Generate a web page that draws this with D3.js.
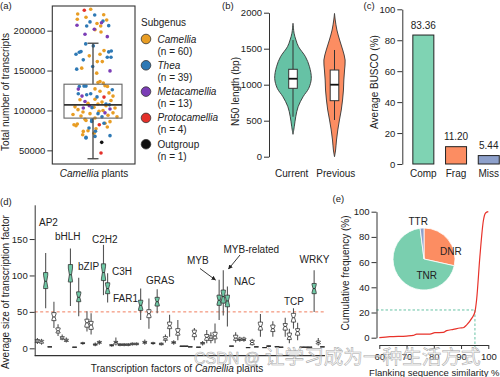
<!DOCTYPE html>
<html><head><meta charset="utf-8">
<script src="https://cdn.jsdelivr.net/npm/d3@7"></script>
<style>body{margin:0;background:#fff}svg{display:block}</style>
</head><body><svg id="c" width="500" height="377"></svg>
<script>
// ---------------- DATA ----------------
// (a)
const subgenera = ["Camellia","Thea","Metacamellia","Protocamellia","Outgroup"];
const subgenusN = [60,39,13,4,1];
const subgenusColors = ["#E89D24","#2E79B5","#7B3DB6","#E4302A","#111111"];
const transcriptTicks = [50000,100000,150000,200000];
const transcriptBox = [39500, 90400, 107000, 132900, 184250];
// [value, jitter]
const camelliaDots = [[226750,-2.3],[220900,-15.3],[216750,-7],[220000,10.7],[214250,-15.7],[213400,13.7],[209000,4],[201250,2],[198400,8],[205900,7.7],
[175000,11],[170500,7],[168400,-3.7],[161250,4.3],[161250,9.3],[153000,-11.3],[146750,3.7],[136250,7],[134250,10.3],[135000,5],
[131000,12],[130000,14.5],[127000,2],[124000,7],[122000,16],[118000,20],[113400,-13],[114000,2],[112500,18],[110500,9],
[109000,-5],[108000,5],[106000,13],[104500,-18],[104000,1],[103000,22],[101000,-15],[100000,10],[99000,6],[98000,-10],
[97000,20],[96000,-3],[95000,-20],[94000,15],[93000,-12],[92000,24],[90500,2],[89000,-8],[87500,-7],[86000,17],
[84000,12],[83000,-15.7],[82000,-19],[80900,-17],[79250,14.3],[77000,3],[74500,-5],[73750,-9.7],[69600,-10.3],[71500,1]];
const theaDots = [[219600,1.7],[205900,-6.3],[206250,15.7],[212000,10],[211000,-3],[183400,-7.3],[180900,0.3],[173000,-13.7],[173750,-12],[170500,-17],
[163400,-9.7],[173400,15.7],[174600,18.3],[166750,14.3],[166750,18],[151750,-16.3],[155000,-0.3],[130000,-13.7],[130500,-9],[130500,-7],
[125900,19.3],[120900,-14.7],[119600,-6.3],[120900,-2.3],[117000,4],[108000,13],[107000,16.5],[103500,-1],[96000,5],[92000,9],
[88000,-1.3],[86250,-1.3],[84000,11],[78000,-4],[74000,2.5],[68400,17],[67500,2],[66250,-7],[65400,-7]];
const metacamelliaDots = [[206750,-16],[210000,8.5],[201750,1.3],[195500,-8],[192500,14.3],[149600,17],[126750,-14.7],[111250,-8],[105900,-3.7],[103000,-9.7],[101750,17],[118000,-11],[97000,12]];
const protocamelliaDots = [[225500,-8.7],[116750,11],[82100,6.3],[46750,8]];
const outgroupDots = [[60000,8.7]];

// (b)
const n50Groups = ["Current","Previous"];
const n50Ticks = [0,500,1000,1500,2000];
const n50Current = [[311,0],[417,0.07],[555,0.15],[694,0.28],[833,0.55],[950,0.86],[1088,1.0],[1250,0.9],[1389,0.68],[1528,0.3],[1621,0.16],[1714,0.06],[1853,0]];
const n50Previous = [[0,0],[93,0.06],[232,0.11],[371,0.18],[510,0.27],[648,0.37],[787,0.44],[926,0.49],[1065,0.51],[1204,0.55],[1343,0.58],[1482,0.45],[1621,0.28],[1760,0.13],[1899,0.04],[1990,0]];
const n50Boxes = [[555,950,1083,1214,1620],[510,778,1000,1204,1482]];
const n50Colors = ["#66C2A5","#FC8D62"];

// (c)
const buscoCats = ["Comp","Frag","Miss"];
const buscoValues = [83.36, 11.20, 5.44];
const buscoTicks = [0,20,40,60,80,100];
const buscoColors = ["#7FD3B3","#FC8D62","#8DA0CB"];

// (d)  [lo, q1, median, q3, hi]
const tfStats = [
[6,8,10,12,14],[5,7,9,11,13],[55,82,92,104,131],[2,2,2,2,2],[28,38,43,49,64],
[17,21,24,28,33],[11,12.5,14,16,19],[8,9.5,11,12.5,15],[58,91,101,115,137],[1.5,1.5,1.5,1.5,1.5],
[44,64,70,77.5,97],[5,6.5,7,7.5,9],[23,29,35,40,51],[19,26,32,37,48],[3,4.5,5,6,8],
[5,7,8,9.5,11],[73,93,104,116,142],[63,75,82,90,103],[2,3.5,4,5,6],[4,6,8,9.5,15],
[3,4,5,6,7],[3,4,5,6,7],[3,4,5,6,7],[4,5,6,7,8],[4,5,6,7,8],
[39,52,59,66,82],[5,7,8,9.5,12],[27,42,47.5,53,68.5],[5,6.5,7,7.5,9],[48,58,64,70,81],
[4,5,6,7,8],[8,11,13,16,19],[16,27,31,36,46],[5,7,8,9,11],[11,18,22,27,39],
[2.5,2.5,3,3,3.5],[2.5,2.5,3,3,3.5],[2,2,2,2,2],[11,16,20.5,25,28],[1.5,1.5,1.5,1.5,1.5],
[4,6,7,8,10],[7,11,15,19,25],[7,11,14,17,22],[7,13,17,22,34],[39,59,66,73,94],
[45,62,71,80,107],[30,57,65,73,85],[3,3,3,3,3],[8,11,14,18,22],[9,11,12,14,16],
[9,11,12,14,16],[1,1,1,1,1],[4,5,8,11,13],[2,2,2,2,2],[16,25,30,36,47],
[1,1,1,1,1],[2,2.5,3,3.5,4],[16,23,27,32,37],[1.5,2,2,2.5,3],[1.5,1.5,1.5,1.5,1.5],
[16,25,30,34,42],[7,12,16,21,27],[27,36,42,48,55],[11,18,23,27,35],[1.5,1.5,1.5,1.5,1.5],
[1.5,1.5,1.5,1.5,1.5],[1.5,1.5,1.5,1.5,1.5],[50,75,82,89,107],[4,6,8,10,14],[2,2,2,2,2]];
const tfHighlighted = [2,8,10,16,17,25,29,44,45,46,67];
const tfLabelNames = ["AP2","bHLH","bZIP","C2H2","C3H","FAR1","GRAS","MYB","MYB-related","NAC","TCP","WRKY"];
const tfTicks = [0,50,100,150];
const tfThreshold = 50;

// (e)
const simX = [60,63.9,70,72.5,73.7,78.6,80.4,83.5,84.7,87.2,89.6,90.8,92,93.9,95.1,95.7,96.9,98.2,99,100];
const simY = [0,0.8,1.3,1.8,2.9,2.9,4,4.2,5.6,6.6,7.7,7.9,10,15.3,20.6,29.9,64,93,99,100];
const simXTicks = [60,70,80,90,100];
const simYTicks = [0,20,40,60,80,100];
const simMark = [95.1, 22];
const repeatTypes = ["DNR","TNR","TTR"];
const repeatShares = [28.5, 69.5, 2.0];
const repeatColors = ["#FC8D62","#7ACFAF","#8DA0CB"];

// ---------------- DRAW ----------------
const FONT = '"Liberation Sans", Arial, Helvetica, sans-serif';
const svg = d3.select("#c").attr("font-family", FONT);
svg.append("rect").attr("width",500).attr("height",377).attr("fill","#fff");
const INK = "#222";
const fmt = d3.format("d");

function label(x,y,s,o={}){
  const t = svg.append("text").attr("x",x).attr("y",y).attr("font-size",o.fs||10)
    .attr("fill",o.fill||INK).attr("text-anchor",o.anchor||"start");
  if(o.rot) t.attr("transform",`rotate(-90,${x},${y})`);
  if(o.italic) t.attr("font-style","italic");
  t.text(s);
  return t;
}
function styleAxis(g){
  g.attr("font-family",FONT).attr("font-size",9.5);
  g.selectAll("text").attr("fill",INK);
  g.selectAll("line").attr("stroke","#333");
  g.select(".domain").attr("stroke","#333");
}

// ---- (a)
label(0,9,"(a)",{fs:9.5});
const ya = d3.scaleLinear().domain([32900,230900]).range([164,6]);
const xa = d3.scaleLinear().domain([-29,29]).range([64,122]);
const groupsA = [camelliaDots, theaDots, metacamelliaDots, protocamelliaDots, outgroupDots];
groupsA.forEach((arr,gi)=>{
  svg.append("g").selectAll("circle").data(arr).join("circle")
    .attr("cx",d=>xa(d[1])).attr("cy",d=>ya(d[0])).attr("r",1.8)
    .attr("fill",subgenusColors[gi]);
});
{
  const [lo,q1,md,q3,hi] = transcriptBox;
  const g = svg.append("g").attr("stroke","#444").attr("fill","none");
  g.append("line").attr("x1",xa(0)).attr("x2",xa(0)).attr("y1",ya(hi)).attr("y2",ya(q3)).attr("stroke-width",1.3);
  g.append("line").attr("x1",xa(0)).attr("x2",xa(0)).attr("y1",ya(q1)).attr("y2",ya(lo)).attr("stroke-width",1.3);
  g.append("line").attr("x1",xa(-5.5)).attr("x2",xa(5.5)).attr("y1",ya(hi)).attr("y2",ya(hi)).attr("stroke-width",1.3);
  g.append("line").attr("x1",xa(-5.5)).attr("x2",xa(5.5)).attr("y1",ya(lo)).attr("y2",ya(lo)).attr("stroke-width",1.3);
  g.append("rect").attr("x",xa(-29)).attr("width",xa(29)-xa(-29)).attr("y",ya(q3)).attr("height",ya(q1)-ya(q3)).attr("stroke","#666").attr("stroke-width",1.1);
  g.append("line").attr("x1",xa(-29)).attr("x2",xa(29)).attr("y1",ya(md)).attr("y2",ya(md)).attr("stroke","#333").attr("stroke-width",1.8);
}
svg.append("rect").attr("x",52.3).attr("y",6).attr("width",82.7).attr("height",158).attr("fill","none").attr("stroke","#333").attr("stroke-width",1.1);
const axA = svg.append("g").attr("transform","translate(52.3,0)")
  .call(d3.axisLeft(ya).tickValues(transcriptTicks).tickSize(5).tickPadding(2).tickFormat(fmt));
axA.select(".domain").remove(); styleAxis(axA);
label(8.5,92,"Total number of transcripts",{rot:true,anchor:"middle"});
{
  const t = svg.append("text").attr("x",94).attr("y",177).attr("font-size",10).attr("fill",INK).attr("text-anchor","middle");
  t.append("tspan").attr("font-style","italic").text("Camellia");
  t.append("tspan").text(" plants");
}
label(141,26,"Subgenus");
subgenera.forEach((s,i)=>{
  const cy = 39 + i*26.3;
  svg.append("circle").attr("cx",146).attr("cy",cy).attr("r",4.8).attr("fill",subgenusColors[i]).attr("stroke","#333").attr("stroke-width",0.8);
  label(157.5,cy+3.5,s,{italic:i<4});
  label(157.5,cy+15.5,`(n = ${subgenusN[i]})`);
});

// ---- (b)
label(222,9,"(b)",{fs:9.5});
const yb = d3.scaleLinear().domain([0,2000]).range([156.7,12.7]);
const xb = d3.scalePoint().domain(n50Groups).range([293,334.5]);
const wb = d3.scaleLinear().domain([0,1]).range([0,18.3]);
[n50Current,n50Previous].forEach((prof,i)=>{
  const cx = xb(n50Groups[i]);
  const area = d3.area().curve(d3.curveCatmullRom.alpha(0.5))
    .y(d=>yb(d[0])).x0(d=>cx-wb(d[1])).x1(d=>cx+wb(d[1]));
  svg.append("path").attr("d",area(prof)).attr("fill",n50Colors[i]).attr("stroke","#333").attr("stroke-width",0.9);
  const [lo,q1,md,q3,hi] = n50Boxes[i];
  svg.append("line").attr("x1",cx).attr("x2",cx).attr("y1",yb(hi)).attr("y2",yb(lo)).attr("stroke","#333").attr("stroke-width",1);
  svg.append("rect").attr("x",cx-4.3).attr("width",8.6).attr("y",yb(q3)).attr("height",yb(q1)-yb(q3)).attr("fill","#fff").attr("stroke","#333").attr("stroke-width",1);
  svg.append("line").attr("x1",cx-4.3).attr("x2",cx+4.3).attr("y1",yb(md)).attr("y2",yb(md)).attr("stroke","#111").attr("stroke-width",1.8);
  label(cx - (i===0?1.3:-1.3),177,n50Groups[i],{anchor:"middle"});
});
const axB = svg.append("g").attr("transform","translate(269,0)")
  .call(d3.axisLeft(yb).tickValues(n50Ticks).tickSize(5).tickSizeOuter(0).tickPadding(2).tickFormat(fmt));
styleAxis(axB);
label(238.5,91.5,"N50 length (bp)",{rot:true,anchor:"middle"});

// ---- (c)
label(363.5,9,"(c)",{fs:9.5});
const yc = d3.scaleLinear().domain([0,100]).range([164,9.3]);
const xc = d3.scaleBand().domain(buscoCats).range([406.3,505.8]).paddingInner(0.358).paddingOuter(0.2);
svg.append("g").selectAll("rect").data(buscoValues).join("rect")
  .attr("x",(d,i)=>xc(buscoCats[i])).attr("width",xc.bandwidth())
  .attr("y",d=>yc(d)).attr("height",d=>yc(0)-yc(d))
  .attr("fill",(d,i)=>buscoColors[i]).attr("stroke","#222").attr("stroke-width",1);
buscoValues.forEach((v,i)=>{
  label(xc(buscoCats[i])+xc.bandwidth()/2, yc(v)-6.5, v.toFixed(2),{anchor:"middle"});
  label(xc(buscoCats[i])+xc.bandwidth()/2, 176.5, buscoCats[i],{anchor:"middle"});
});
const axC = svg.append("g").attr("transform","translate(402.3,0)")
  .call(d3.axisLeft(yc).tickValues(buscoTicks).tickSize(5).tickSizeOuter(0).tickPadding(2).tickFormat(fmt));
styleAxis(axC);
label(378.3,82,"Average BUSCO (%)",{rot:true,anchor:"middle"});

// ---- (d)
label(0,205,"(d)",{fs:9.5});
const yd = d3.scaleLinear().domain([-10,197]).range([355.6,204.8]);
const xd = d3.scalePoint().domain(d3.range(tfStats.length)).range([37.4,322.4]);
svg.append("line").attr("x1",34.7).attr("x2",325).attr("y1",yd(-10)).attr("y2",yd(-10)).attr("stroke","#333").attr("stroke-width",1.1);
svg.append("line").attr("x1",34.7).attr("x2",325).attr("y1",yd(tfThreshold)).attr("y2",yd(tfThreshold))
  .attr("stroke","#F07D5E").attr("stroke-width",1).attr("stroke-dasharray","3,2.5");
const bw = 4.2;
tfStats.forEach((s,i)=>{
  const [lo,q1,md,q3,hi] = s;
  const cx = xd(i);
  const hl = tfHighlighted.includes(i);
  svg.append("line").attr("x1",cx).attr("x2",cx).attr("y1",yd(hi)).attr("y2",yd(lo)).attr("stroke","#555").attr("stroke-width",1.1);
  const n = (q3-q1)*0.38;
  const nt = Math.min(q3, md+n), nb = Math.max(q1, md-n);
  const h = bw/2, hn = bw/4;
  const pts = [[cx-h,yd(q3)],[cx+h,yd(q3)],[cx+h,yd(nt)],[cx+hn,yd(md)],[cx+h,yd(nb)],[cx+h,yd(q1)],
               [cx-h,yd(q1)],[cx-h,yd(nb)],[cx-hn,yd(md)],[cx-h,yd(nt)]];
  svg.append("path").attr("d","M"+pts.map(p=>p.join(",")).join("L")+"Z")
    .attr("fill",hl?"#6FC9A6":"#fff").attr("stroke","#333").attr("stroke-width",0.8);
  svg.append("line").attr("x1",cx-hn).attr("x2",cx+hn).attr("y1",yd(md)).attr("y2",yd(md)).attr("stroke","#222").attr("stroke-width",0.9);
});
const axD = svg.append("g").attr("transform","translate(34.7,0)")
  .call(d3.axisLeft(yd).tickValues(tfTicks).tickSize(5).tickSizeOuter(0).tickPadding(2).tickFormat(fmt));
styleAxis(axD);
const tfLabelPos = [[39,225.5],[55,239.5],[78,269.5],[92,242.5],[112,274.5],[113,301.5],[146,284],[187,264],[223.5,252.5],[234,285],[284,304.5],[299.5,262.5]];
tfLabelNames.forEach((s,i)=>label(tfLabelPos[i][0],tfLabelPos[i][1],s));
const defs = svg.append("defs");
defs.append("marker").attr("id","ah").attr("viewBox","0 0 10 10").attr("refX",9).attr("refY",5)
  .attr("markerWidth",5).attr("markerHeight",5).attr("orient","auto")
  .append("path").attr("d","M0,0L10,5L0,10Z").attr("fill","#222");
svg.append("line").attr("x1",200).attr("y1",268.5).attr("x2",215.5).attr("y2",280).attr("stroke","#222").attr("stroke-width",0.9).attr("marker-end","url(#ah)");
svg.append("line").attr("x1",240).attr("y1",255).attr("x2",228.5).attr("y2",269).attr("stroke","#222").attr("stroke-width",0.9).attr("marker-end","url(#ah)");
label(8.5,292,"Average size of transcription factor",{rot:true,anchor:"middle"});
{
  const t = svg.append("text").attr("x",177).attr("y",372).attr("font-size",10).attr("fill",INK).attr("text-anchor","middle");
  t.append("tspan").text("Transcription factors of ");
  t.append("tspan").attr("font-style","italic").text("Camellia");
  t.append("tspan").text(" plants");
}

// ---- (e)
label(332.5,202,"(e)",{fs:9.5});
const xe = d3.scaleLinear().domain([60,100]).range([379.3,488.3]);
const ye = d3.scaleLinear().domain([0,100]).range([337.7,211.7]);
const mark = svg.append("g").attr("stroke","#66C2A5").attr("stroke-width",1).attr("stroke-dasharray","2.5,2");
mark.append("line").attr("x1",376.5).attr("x2",xe(simMark[0])).attr("y1",ye(simMark[1])).attr("y2",ye(simMark[1]));
mark.append("line").attr("x1",xe(simMark[0])).attr("x2",xe(simMark[0])).attr("y1",ye(simMark[1])).attr("y2",347);
const line = d3.line().curve(d3.curveMonotoneX).x((d,i)=>xe(simX[i])).y((d,i)=>ye(simY[i]));
svg.append("path").attr("d",line(simY)).attr("fill","none").attr("stroke","#E8322A").attr("stroke-width",1.2);
const axEy = svg.append("g").attr("transform","translate(376.5,0)")
  .call(d3.axisLeft(ye).tickValues(simYTicks).tickSize(5).tickSizeOuter(0).tickPadding(2).tickFormat(fmt));
styleAxis(axEy);
const axEx = svg.append("g").attr("transform","translate(0,345)")
  .call(d3.axisBottom(xe).tickValues(simXTicks).tickSize(4).tickSizeOuter(0).tickPadding(4).tickFormat(fmt));
styleAxis(axEx);
label(348.5,273,"Cumulative frequency (%)",{rot:true,anchor:"middle"});
label(499.5,375.5,"Flanking sequence similarity %",{anchor:"end",fs:9.5});
const pie = d3.pie().sort(null)(repeatShares);
const arc = d3.arc().innerRadius(0).outerRadius(31);
const pg = svg.append("g").attr("transform","translate(424,259)");
pg.selectAll("path").data(pie).join("path").attr("d",arc)
  .attr("fill",(d,i)=>repeatColors[i]).attr("stroke","#fff").attr("stroke-width",0.8);
label(440,254.5,"DNR",{fs:10});
label(416.5,279,"TNR",{fs:10});
label(408.5,225,"TTR",{fs:10});

// watermark
const wm = svg.append("text").attr("y",364).attr("fill","rgba(255,255,255,0.3)").attr("stroke","#a8a8a8").attr("stroke-width",0.55);
wm.append("tspan").attr("x",194).attr("font-size",16).attr("font-family",FONT).text("CSDN @");
wm.append("tspan").attr("x",265).attr("font-size",19.6).attr("font-family",'"Noto Sans CJK SC", sans-serif').text("让学习成为一种生活方式");
</script></body></html>
